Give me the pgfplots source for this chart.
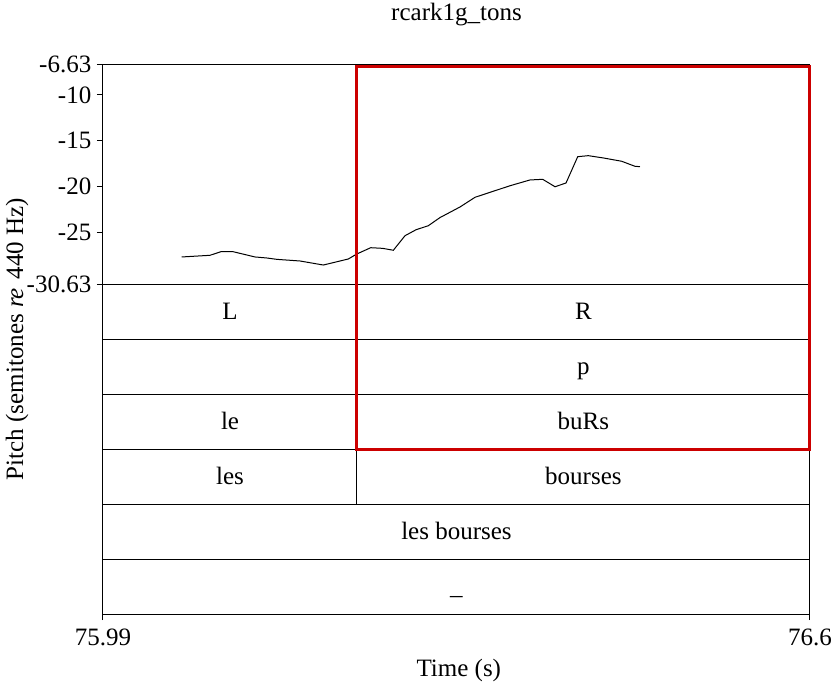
\documentclass[border=0pt]{standalone}
\usepackage{fontspec}
\setmainfont{Liberation Serif}
\usepackage{pgfplots}
\pgfplotsset{compat=1.18}
\definecolor{boxred}{RGB}{204,0,0}
\begin{document}
\fontsize{12.5}{15}\selectfont
\begin{tikzpicture}
\begin{axis}[
  name=ax,
  scale only axis,
  width=353.5pt, height=275pt,
  xmin=75.99, xmax=76.6, ymin=-66.63, ymax=-6.63,
  clip=false,
  axis line style={line width=0.5pt},
  xtick={75.99,76.6}, xticklabels={75.99,76.6},
  ytick={-30.63,-25,-20,-15,-10,-6.63},
  yticklabels={-30.63,-25,-20,-15,-10,-6.63},
  tick align=outside, xtick pos=bottom, ytick pos=left,
  major tick length=3pt,
  tick style={black, line width=0.5pt},
  ticklabel style={font=\fontsize{12.5}{15}\selectfont},
  yticklabel style={xshift=1.5pt},
  every node/.append style={font=\fontsize{12.5}{15}\selectfont},
]
% tier boundaries
\addplot[black, line width=0.5pt] coordinates {(75.99,-30.63) (76.6,-30.63)};
\addplot[black, line width=0.5pt] coordinates {(75.99,-36.63) (76.6,-36.63)};
\addplot[black, line width=0.5pt] coordinates {(75.99,-42.63) (76.6,-42.63)};
\addplot[black, line width=0.5pt] coordinates {(75.99,-48.63) (76.6,-48.63)};
\addplot[black, line width=0.5pt] coordinates {(75.99,-54.63) (76.6,-54.63)};
\addplot[black, line width=0.5pt] coordinates {(75.99,-60.63) (76.6,-60.63)};
\addplot[black, line width=0.5pt] coordinates {(76.209,-30.63) (76.209,-54.63)};
% pitch contour
\addplot[black, line width=0.5pt] coordinates {
(76.0579,-27.68) (76.0823,-27.50) (76.0916,-27.11) (76.1024,-27.11)
(76.1211,-27.68) (76.1312,-27.79) (76.1399,-27.94) (76.1600,-28.12)
(76.1801,-28.56) (76.2017,-27.90) (76.2089,-27.36) (76.2210,-26.67)
(76.2313,-26.74) (76.2405,-26.95) (76.2506,-25.36) (76.2601,-24.71)
(76.2707,-24.27) (76.2808,-23.38) (76.2980,-22.23) (76.3110,-21.17)
(76.3239,-20.63) (76.3412,-19.91) (76.3584,-19.28) (76.3694,-19.21)
(76.3800,-20.02) (76.3895,-19.61) (76.3996,-16.74) (76.4087,-16.63)
(76.4217,-16.88) (76.4375,-17.24) (76.4490,-17.79) (76.4533,-17.83)
};
% highlight box
\addplot[boxred, line width=1.5pt, line join=miter] coordinates {
(76.209,-48.63) (76.209,-6.95) (76.6,-6.95) (76.6,-48.63)} -- cycle;
% tier labels
\node[anchor=base] at (axis cs:76.0996,-34.53) {L};
\node[anchor=base] at (axis cs:76.4045,-34.53) {R};
\node[anchor=base] at (axis cs:76.4045,-40.53) {p};
\node[anchor=base] at (axis cs:76.0996,-46.53) {le};
\node[anchor=base] at (axis cs:76.4045,-46.53) {buRs};
\node[anchor=base] at (axis cs:76.0996,-52.53) {les};
\node[anchor=base] at (axis cs:76.4045,-52.53) {bourses};
\node[anchor=base] at (axis cs:76.295,-58.53) {les bourses};
\node[anchor=base] at (axis cs:76.295,-64.53) {\_};
% title and labels
\node[anchor=base] at (axis cs:76.295,-1.83) {rcark1g\_tons};
\node[anchor=base] at (axis cs:76.297,-73.5) {Time (s)};
\node[anchor=base, rotate=90] at (axis cs:75.921,-36.63) {Pitch (semitones \textit{re}\hspace{0.35em}440 Hz)};
\end{axis}
\pgfresetboundingbox
\path ([xshift=-51.5pt, yshift=-35.5pt]ax.south west) rectangle ([xshift=366pt, yshift=307pt]ax.south west);
\end{tikzpicture}
\end{document}
